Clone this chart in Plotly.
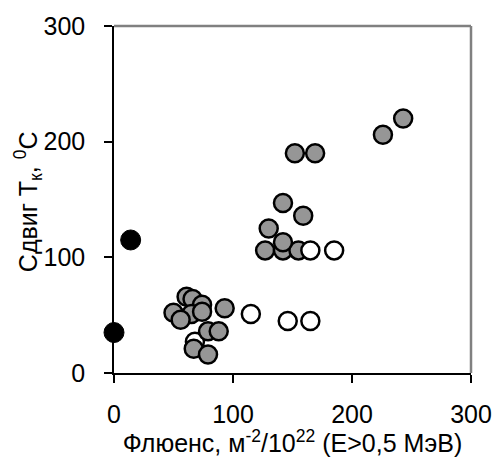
import plotly.graph_objects as go

# Data
gray_x = [61, 66, 74, 50, 65, 74, 56, 93, 79, 88, 67, 79,
          127, 142, 155, 142, 130, 142, 159, 152, 169, 226, 243]
gray_y = [66, 64, 59, 52, 51, 53, 46, 56, 36, 36, 21, 16,
          106, 106, 106, 113, 125, 147, 136, 190, 190, 206, 220]
open_x = [68, 115, 146, 165, 165, 185]
open_y = [27, 51, 45, 45, 106, 106]
black_x = [0, 14]
black_y = [35, 115]

x_ticks = [0, 100, 200, 300]
y_ticks = [0, 100, 200, 300]

FONT = "Arial, Liberation Sans, sans-serif"

fig = go.Figure()
fig.add_trace(go.Scatter(x=open_x[:1], y=open_y[:1], mode="markers",
                         marker=dict(size=18, color="white", line=dict(color="black", width=2.5)),
                         showlegend=False, cliponaxis=False))
fig.add_trace(go.Scatter(x=gray_x, y=gray_y, mode="markers",
                         marker=dict(size=18, color="#969696", line=dict(color="black", width=2.5)),
                         showlegend=False, cliponaxis=False))
fig.add_trace(go.Scatter(x=open_x[1:], y=open_y[1:], mode="markers",
                         marker=dict(size=18, color="white", line=dict(color="black", width=2.5)),
                         showlegend=False, cliponaxis=False))
fig.add_trace(go.Scatter(x=black_x, y=black_y, mode="markers",
                         marker=dict(size=20, color="black", line=dict(color="black", width=1)),
                         showlegend=False, cliponaxis=False))

fig.update_layout(
    width=504, height=457,
    margin=dict(l=114, r=26, t=25, b=82),
    paper_bgcolor="white", plot_bgcolor="white",
    font=dict(family=FONT, size=25, color="black"),
    xaxis=dict(range=[0, 300], tickvals=x_ticks, ticks="outside", ticklen=8,
               tickwidth=1.5, tickcolor="black", showgrid=False, zeroline=False,
               showline=True, linecolor="black", linewidth=1.5,
               ticklabelstandoff=10,
               title=dict(text="Флюенс, м<sup>-2</sup>/10<sup>22</sup> (E>0,5 МэВ)",
                          font=dict(size=25), standoff=0)),
    yaxis=dict(range=[0, 300], tickvals=y_ticks, ticks="outside", ticklen=8,
               tickwidth=1.5, tickcolor="black", showgrid=False, zeroline=False,
               showline=True, linecolor="black", linewidth=1.5,
               ticklabelstandoff=14),
    shapes=[
        dict(type="line", xref="paper", yref="paper", x0=0, x1=1, y0=1, y1=1,
             line=dict(color="#808080", width=2.5)),
        dict(type="line", xref="paper", yref="paper", x0=1, x1=1, y0=0, y1=1,
             line=dict(color="#808080", width=2.5)),
    ],
    annotations=[
        dict(text="Сдвиг Т<sub>к</sub>, <sup>0</sup>С", textangle=-90,
             xref="paper", yref="paper", x=(27 - 114) / 364, y=(375 - 202) / 350,
             xanchor="center", yanchor="middle", showarrow=False,
             font=dict(size=25, family=FONT)),
    ],
)

fig.write_html("out.html")
